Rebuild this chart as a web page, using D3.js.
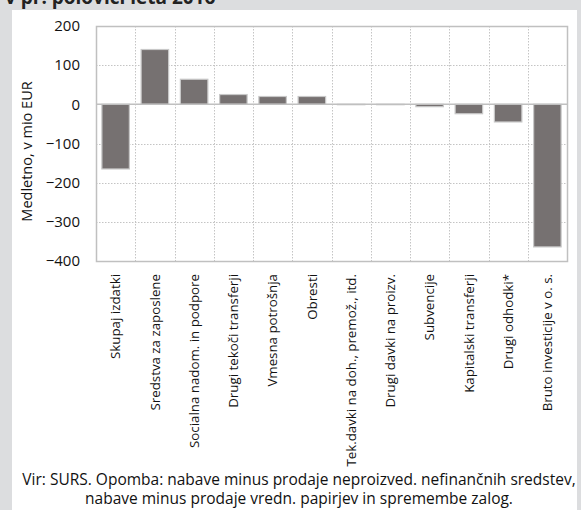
<!doctype html>
<html>
<head>
<meta charset="utf-8">
<style>
  body { margin: 0; background: #dcdddf; }
  svg { display: block; font-family: "Open Sans", sans-serif; }
  .grid line { stroke: #c4c4c4; stroke-dasharray: 1.5,1.5; }
  .axis text { fill: #111; }
</style>
<script src="https://d3js.org/d3.v7.min.js"></script>
</head>
<body>
<svg width="581" height="510"></svg>
<script>
// data
var categories = ["Skupaj izdatki", "Sredstva za zaposlene", "Socialna nadom. in podpore",
  "Drugi tekoči transferji", "Vmesna potrošnja", "Obresti",
  "Tek.davki na doh., premož., itd.", "Drugi davki na proizv.", "Subvencije",
  "Kapitalski transferji", "Drugi odhodki*", "Bruto investicije v o. s."];
var values = [-165, 140, 64, 25, 20, 20, -1, -1, -6, -24, -45, -364];
var yTicks = [200, 100, 0, -100, -200, -300, -400];
var title = "v pr. polovici leta 2016";
var yTitle = "Medletno, v mio EUR";
var note = ["Vir: SURS. Opomba: nabave minus prodaje neproizved. nefinančnih sredstev,",
  "nabave minus prodaje vredn. papirjev in spremembe zalog."];

var svg = d3.select("svg");

// white panel
svg.append("rect").attr("x", 12).attr("y", 10).attr("width", 565).attr("height", 500)
  .attr("fill", "#fff");

svg.append("text").attr("x", 5).attr("y", 4)
  .attr("font-size", "19px").attr("font-weight", "bold").attr("fill", "#222")
  .text(title);

var pl = 96, pr = 567, pt = 26, pb = 261;

var x = d3.scaleBand().domain(categories).range([pl, pr]).paddingInner(0.3).paddingOuter(0.15);
var y = d3.scaleLinear().domain([-400, 200]).range([pb, pt]);
var step = x.step();

// grid
var grid = svg.append("g").attr("class", "grid");
grid.selectAll(".h").data(yTicks).enter().append("line")
  .attr("x1", pl).attr("x2", pr)
  .attr("y1", function(d) { return Math.round(y(d)) + 0.5; })
  .attr("y2", function(d) { return Math.round(y(d)) + 0.5; });
grid.selectAll(".v").data(categories.slice(1)).enter().append("line")
  .attr("x1", function(d, i) { return Math.round(pl + step * (i + 1)) + 0.5; })
  .attr("x2", function(d, i) { return Math.round(pl + step * (i + 1)) + 0.5; })
  .attr("y1", pt).attr("y2", pb);

// frame
svg.append("rect").attr("x", pl + 0.5).attr("y", pt + 0.5)
  .attr("width", pr - pl).attr("height", pb - pt)
  .attr("fill", "none").attr("stroke", "#c0c0c0").attr("stroke-width", 1.5);

// bars
svg.selectAll(".bar").data(values).enter().append("rect")
  .attr("class", "bar")
  .attr("x", function(d, i) { return x(categories[i]); })
  .attr("width", x.bandwidth())
  .attr("y", function(d) { return y(Math.max(0, d)); })
  .attr("height", function(d) { return Math.abs(y(d) - y(0)); })
  .attr("fill", "#767171")
  .attr("stroke", "#c8c8c8").attr("stroke-width", 1.2);

// zero line
svg.append("line").attr("x1", pl).attr("x2", pr)
  .attr("y1", y(0)).attr("y2", y(0))
  .attr("stroke", "#c0c0c0").attr("stroke-width", 1.5);

// y axis labels
var yAxis = svg.append("g").attr("class", "axis")
  .attr("transform", "translate(" + (pl - 16) + ",0)")
  .call(d3.axisLeft(y).tickValues(yTicks).tickSize(0).tickPadding(0));
yAxis.select(".domain").remove();
yAxis.selectAll("text").attr("font-size", "15px").attr("font-family", "Open Sans, sans-serif");

svg.append("text")
  .attr("transform", "translate(32," + ((pt + pb) / 2 + 8) + ") rotate(-90)")
  .attr("text-anchor", "middle").attr("font-size", "14.5px").attr("fill", "#111")
  .text(yTitle);

// x axis labels
var xAxis = svg.append("g").attr("class", "axis")
  .attr("transform", "translate(0," + pb + ")")
  .call(d3.axisBottom(x).tickSize(0).tickPadding(0));
xAxis.select(".domain").remove();
xAxis.selectAll("text")
  .attr("font-size", "13.3px").attr("font-family", "Open Sans, sans-serif")
  .attr("text-anchor", "end")
  .attr("transform", "rotate(-90)")
  .attr("x", -13).attr("y", 0).attr("dy", "0.35em");

// note
svg.selectAll(".note").data(note).enter().append("text")
  .attr("x", 299).attr("y", function(d, i) { return 485 + i * 19; })
  .attr("text-anchor", "middle").attr("font-size", "15.5px").attr("fill", "#111")
  .text(function(d) { return d; });
</script>
</body>
</html>
